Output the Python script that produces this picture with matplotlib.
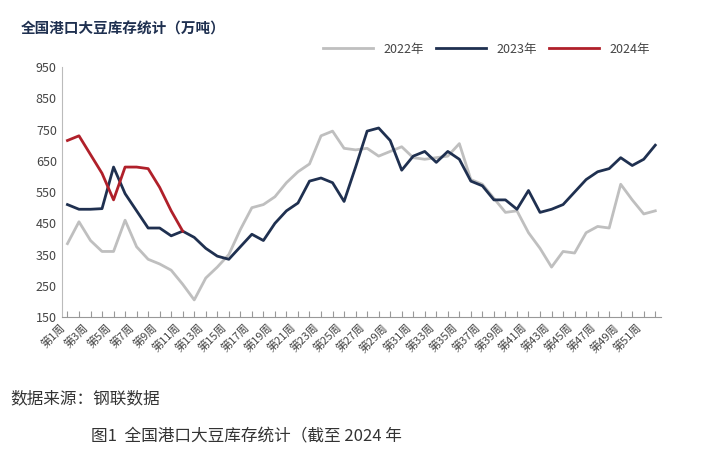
import matplotlib.pyplot as plt

plt.rcParams['font.family'] = ['Noto Sans CJK SC', 'DejaVu Sans']

weeks = list(range(1, 53))
labels = ['第%d周' % w for w in weeks]

y2022 = [385, 455, 395, 360, 360, 460, 375, 335, 320, 300, 255, 205, 275, 310, 350, 430,
         500, 510, 535, 580, 615, 640, 730, 745, 690, 685, 690, 665, 680, 695, 660, 655,
         660, 665, 705, 590, 575, 530, 485, 490, 420, 370, 310, 360, 355, 420, 440, 435,
         575, 525, 480, 490]
y2023 = [510, 495, 495, 497, 630, 545, 490, 435, 435, 410, 425, 405, 370, 345, 335, 375,
         415, 395, 450, 490, 515, 585, 595, 580, 520, 630, 745, 755, 715, 620, 665, 680,
         645, 680, 655, 585, 570, 525, 525, 495, 555, 485, 495, 510, 550, 590, 615, 625,
         660, 635, 655, 700]
y2024 = [715, 730, 670, 610, 525, 630, 630, 625, 565, 490, 425]

fig = plt.figure(figsize=(7.01, 4.53), dpi=100)
ax = fig.add_axes([0.088, 0.30, 0.855, 0.552])

ax.plot(weeks, y2022, color='#bfbfbf', lw=2, label='2022年')
ax.plot(weeks, y2023, color='#1f3050', lw=2, label='2023年')
ax.plot(weeks[:len(y2024)], y2024, color='#b0202a', lw=2, label='2024年')

ax.set_ylim(150, 950)
ax.set_yticks(range(150, 951, 100))
ax.set_xlim(0.5, 52.5)
ax.set_xticks(weeks)
ax.set_xticklabels([l if i % 2 == 0 else '' for i, l in enumerate(labels)],
                   rotation=45, ha='right', fontsize=8, color='#444444')
ax.tick_params(axis='y', labelsize=9, colors='#444444', length=0)
ax.tick_params(axis='x', length=4, direction='in', color='#999999')
for s in ['top', 'right']:
    ax.spines[s].set_visible(False)
ax.spines['left'].set_color('#bbbbbb')
ax.spines['bottom'].set_color('#999999')

ax.legend(loc='lower right', bbox_to_anchor=(1.0, 1.0), ncol=3, frameon=False,
          fontsize=9, handlelength=4, columnspacing=1.0, labelcolor='#444444')

fig.text(0.03, 0.925, '全国港口大豆库存统计（万吨）', fontsize=10.5, fontweight='bold', color='#1f3050')
fig.text(0.015, 0.11, '数据来源：钢联数据', fontsize=12, color='#333333')
fig.text(0.13, 0.025, '图1  全国港口大豆库存统计（截至 2024 年', fontsize=12, color='#333333')

fig.savefig('out.png', dpi=100)
